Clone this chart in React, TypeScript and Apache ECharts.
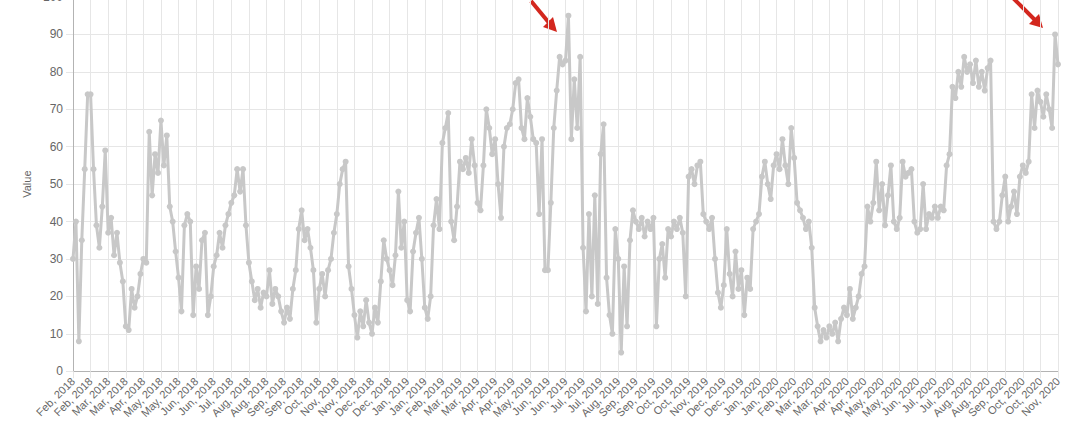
import React, { useEffect, useRef } from "react";
import * as echarts from "echarts";

const tickLabels: string[] = [
  "Feb, 2018", "Feb, 2018", "Mar, 2018", "Mar, 2018", "Apr, 2018", "May, 2018", "May, 2018",
  "Jun, 2018", "Jun, 2018", "Jul, 2018", "Aug, 2018", "Aug, 2018", "Sep, 2018", "Sep, 2018",
  "Oct, 2018", "Nov, 2018", "Nov, 2018", "Dec, 2018", "Dec, 2018", "Jan, 2019", "Jan, 2019",
  "Feb, 2019", "Mar, 2019", "Mar, 2019", "Apr, 2019", "Apr, 2019", "May, 2019", "Jun, 2019",
  "Jun, 2019", "Jul, 2019", "Jul, 2019", "Aug, 2019", "Sep, 2019", "Sep, 2019", "Oct, 2019",
  "Oct, 2019", "Nov, 2019", "Dec, 2019", "Dec, 2019", "Jan, 2020", "Jan, 2020", "Feb, 2020",
  "Mar, 2020", "Mar, 2020", "Apr, 2020", "Apr, 2020", "May, 2020", "May, 2020", "Jun, 2020",
  "Jul, 2020", "Jul, 2020", "Aug, 2020", "Aug, 2020", "Sep, 2020", "Oct, 2020", "Oct, 2020",
  "Nov, 2020",
];

const POINTS_PER_TICK = 6;

const values2018: number[] = [
  30, 40, 8, 35, 54, 74,
  74, 54, 39, 33, 44, 59,
  37, 41, 31, 37, 29, 24,
  12, 11, 22, 17, 20, 26,
  30, 29, 64, 47, 58, 53,
  67, 55, 63, 44, 40, 32,
  25, 16, 39, 42, 40, 15,
  28, 22, 35, 37, 15, 20,
  28, 31, 37, 33, 39, 42,
  45, 47, 54, 48, 54, 39,
  29, 24, 19, 22, 17, 21,
  20, 27, 18, 22, 20, 16,
  13, 17, 14, 22, 27, 38,
  43, 35, 38, 33, 27, 13,
  22, 26, 20, 27, 30, 37,
  42, 50, 54, 56, 28, 22,
  15, 9, 16, 12, 19, 13,
  10, 17, 13, 24, 35, 30,
  27, 23, 31, 48, 33, 40,
];

const values2019: number[] = [
  19, 16, 32, 37, 41, 30,
  17, 14, 20, 39, 46, 38,
  61, 65, 69, 40, 35, 44,
  56, 54, 57, 53, 62, 55,
  45, 43, 55, 70, 65, 58,
  62, 50, 41, 60, 65, 66,
  70, 77, 78, 65, 62, 73,
  68, 62, 61, 42, 62, 27,
  27, 45, 65, 75, 84, 82,
  83, 95, 62, 78, 65, 84,
  33, 16, 42, 20, 47, 18,
  58, 66, 25, 15, 10, 38,
  30, 5, 28, 12, 35, 43,
  40, 38, 41, 36, 40, 38,
  41, 12, 30, 34, 25, 38,
  36, 40, 38, 41, 37, 20,
  52, 54, 50, 55, 56, 42,
  40, 38, 41, 30, 21, 17,
  23, 38, 26, 20, 32, 22,
];

const values2020: number[] = [
  27, 15, 25, 22, 38, 40,
  42, 52, 56, 50, 46, 55,
  58, 54, 62, 55, 50, 65,
  57, 45, 43, 41, 38, 40,
  33, 17, 12, 8, 11, 9,
  12, 10, 13, 8, 14, 17,
  15, 22, 14, 17, 20, 26,
  28, 44, 40, 45, 56, 43,
  50, 39, 47, 55, 40, 38,
  41, 56, 52, 53, 54, 40,
  37, 38, 50, 38, 42, 41,
  44, 41, 44, 43, 55, 58,
  76, 73, 80, 76, 84, 80,
  82, 77, 83, 76, 80, 75,
  81, 83, 40, 38, 40, 47,
  52, 40, 44, 48, 42, 52,
  55, 53, 56, 74, 65, 75,
  72, 68, 74, 70, 65, 90,
  82,
];

const yTicks = { min: 0, max: 100, interval: 10 };

const SHIFT = 12;

export default function App() {
  const ref = useRef<HTMLDivElement>(null);

  useEffect(() => {
    if (!ref.current) return;
    const chart = echarts.init(ref.current, null, { renderer: "svg" });
    const values = [...values2018, ...values2019, ...values2020];
    const categories = values.map((_, i) => tickLabels[Math.floor(i / POINTS_PER_TICK)]);
    const font = "'Liberation Sans', Arial, Helvetica, sans-serif";
    const gridColor = "#e6e6e6";
    const arrowColor = "#d3271e";

    chart.setOption({
      animation: false,
      backgroundColor: "#ffffff",
      grid: { left: 73, right: 22, top: SHIFT - 3, bottom: 49, containLabel: false },
      xAxis: {
        type: "category",
        boundaryGap: false,
        data: categories,
        axisLine: { show: true, lineStyle: { color: "#b3b3b3", width: 1 } },
        axisTick: { show: true, interval: POINTS_PER_TICK - 1, length: 7, lineStyle: { color: gridColor } },
        splitLine: { show: true, interval: POINTS_PER_TICK - 1, lineStyle: { color: gridColor, width: 1 } },
        axisLabel: {
          interval: POINTS_PER_TICK - 1,
          rotate: 45,
          margin: 8,
          color: "#666",
          fontSize: 11,
          fontFamily: font,
        },
      },
      yAxis: {
        type: "value",
        min: yTicks.min,
        max: yTicks.max,
        interval: yTicks.interval,
        name: "Value",
        nameLocation: "middle",
        nameRotate: 90,
        nameGap: 40,
        nameTextStyle: { color: "#666", fontSize: 11, fontFamily: font },
        axisLine: { show: true, lineStyle: { color: "#b3b3b3", width: 1 } },
        axisTick: { show: true, length: 7, lineStyle: { color: gridColor } },
        splitLine: { show: true, lineStyle: { color: gridColor, width: 1 } },
        axisLabel: { color: "#666", fontSize: 12, fontFamily: font, margin: 10 },
      },
      series: [
        {
          type: "line",
          data: values,
          symbol: "circle",
          symbolSize: 6,
          showAllSymbol: true,
          lineStyle: { color: "#c8c8c8", width: 3 },
          itemStyle: { color: "#c8c8c8", borderColor: "#c8c8c8", borderWidth: 0 },
        },
      ],
      graphic: [
        { type: "line", shape: { x1: 531, y1: SHIFT + 1, x2: 550, y2: SHIFT + 24 }, style: { stroke: arrowColor, lineWidth: 4, lineCap: "butt" } },
        { type: "polygon", shape: { points: [[557, SHIFT + 32], [543, SHIFT + 27], [553, SHIFT + 17]] }, style: { fill: arrowColor } },
        { type: "line", shape: { x1: 1011, y1: SHIFT - 4, x2: 1035, y2: SHIFT + 20 }, style: { stroke: arrowColor, lineWidth: 4, lineCap: "butt" } },
        { type: "polygon", shape: { points: [[1043, SHIFT + 28], [1029, SHIFT + 24], [1039, SHIFT + 14]] }, style: { fill: arrowColor } },
      ],
    });

    return () => chart.dispose();
  }, []);

  return (
    <div
      ref={ref}
      style={{ position: "absolute", left: 0, top: -SHIFT, width: 1080, height: 421 + SHIFT }}
    />
  );
}
